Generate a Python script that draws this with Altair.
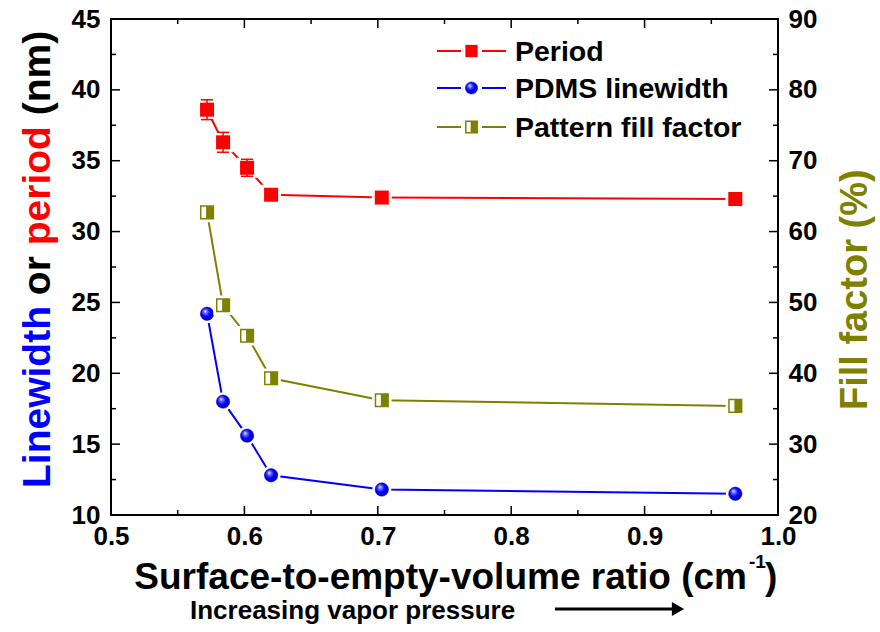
import altair as alt
import pandas as pd

# Measured data
ratio = [0.572, 0.584, 0.602, 0.620, 0.703, 0.968]
period = [38.6, 36.3, 34.5, 32.6, 32.4, 32.3]
period_err = [0.7, 0.7, 0.6, 0.3, 0.3, 0.2]
linewidth = [24.2, 18.0, 15.6, 12.8, 11.8, 11.5]
fill_factor = [62.7, 49.6, 45.3, 39.3, 36.2, 35.4]

# Axis tick values
x_major = [0.5, 0.6, 0.7, 0.8, 0.9, 1.0]
x_minor = [0.55, 0.65, 0.75, 0.85, 0.95]
yl_major = [10, 15, 20, 25, 30, 35, 40, 45]
yl_minor = [12.5, 17.5, 22.5, 27.5, 32.5, 37.5, 42.5]
yr_major = [20, 30, 40, 50, 60, 70, 80, 90]
yr_minor = [25, 35, 45, 55, 65, 75, 85]

W, H = 667, 496
FONT = "Liberation Sans"
RED, BLUE, OLIVE = "#ff0000", "#0000ff", "#808000"
MAJ, MIN = 9, 5

df = pd.DataFrame({
    "ratio": ratio,
    "period": period,
    "lo": [p - e for p, e in zip(period, period_err)],
    "hi": [p + e for p, e in zip(period, period_err)],
    "linewidth": linewidth,
    "fill": fill_factor,
})

xs = alt.Scale(domain=[0.5, 1.0], nice=False, zero=False)
yls = alt.Scale(domain=[10, 45], nice=False, zero=False)
yrs = alt.Scale(domain=[20, 90], nice=False, zero=False)

x_axis = alt.Axis(values=x_major, format=".1f", ticks=False, domain=False, grid=False,
                  labelFlush=False, labelOverlap=False,
                  labelFont=FONT, labelFontSize=26, labelFontWeight="bold",
                  labelColor="black", labelPadding=8, title=None, orient="bottom")
yl_axis = alt.Axis(values=yl_major, format="d", ticks=False, domain=False, grid=False,
                   labelFlush=False, labelOverlap=False,
                   labelFont=FONT, labelFontSize=26, labelFontWeight="bold",
                   labelColor="black", labelPadding=11, title=None, orient="left")
yr_axis = alt.Axis(values=yr_major, format="d", ticks=False, domain=False, grid=False,
                   labelFlush=False, labelOverlap=False,
                   labelFont=FONT, labelFontSize=26, labelFontWeight="bold",
                   labelColor="black", labelPadding=10, title=None, orient="right")


def X(field):
    return alt.X(field, scale=xs, axis=x_axis)


def YL(field):
    return alt.Y(field, scale=yls, axis=yl_axis)


def YR(field):
    return alt.Y(field, scale=yrs, axis=yr_axis)


base = alt.Chart(df)
halo_sq = "M-1,-1H1V1H-1Z"
right_half = "M-0.15,-1H1V1H-0.15Z"
cap = "M-1,0H1"

sphere = alt.RadialGradient(
    gradient="radial",
    x1=0.35, y1=0.3, r1=0.0, x2=0.45, y2=0.45, r2=0.6,
    stops=[alt.GradientStop(offset=0.0, color="#ffffff"),
           alt.GradientStop(offset=0.22, color="#7070ff"),
           alt.GradientStop(offset=0.55, color="#0000ff"),
           alt.GradientStop(offset=1.0, color="#0000a8")],
)

# ---- left scale: period and linewidth ----
period_line = base.mark_line(color=RED, strokeWidth=2).encode(x=X("ratio:Q"), y=YL("period:Q"))
lw_line = base.mark_line(color=BLUE, strokeWidth=2).encode(x=X("ratio:Q"), y=YL("linewidth:Q"))
period_halo = base.mark_point(shape=halo_sq, filled=True, color="white", opacity=1, size=400).encode(
    x=X("ratio:Q"), y=YL("period:Q"))
lw_halo = base.mark_circle(color="white", opacity=1, size=360).encode(
    x=X("ratio:Q"), y=YL("linewidth:Q"))
err_rule = base.mark_rule(color=RED, strokeWidth=1.5).encode(
    x=X("ratio:Q"), y=YL("lo:Q"), y2="hi:Q")
err_lo = base.mark_point(shape=cap, filled=False, color=RED, strokeWidth=1.5, opacity=1, size=150).encode(
    x=X("ratio:Q"), y=YL("lo:Q"))
err_hi = base.mark_point(shape=cap, filled=False, color=RED, strokeWidth=1.5, opacity=1, size=150).encode(
    x=X("ratio:Q"), y=YL("hi:Q"))
period_pts = base.mark_point(shape="square", filled=True, color=RED, opacity=1, size=196).encode(
    x=X("ratio:Q"), y=YL("period:Q"))
lw_pts = base.mark_point(shape="circle", filled=True, fill=sphere, stroke="#0000c0", strokeWidth=0.5,
                         opacity=1, size=180).encode(x=X("ratio:Q"), y=YL("linewidth:Q"))

# tick marks drawn inward on all four sides
xt_maj = pd.DataFrame({"t": x_major})
xt_min = pd.DataFrame({"t": x_minor})
ylt_maj = pd.DataFrame({"t": yl_major})
ylt_min = pd.DataFrame({"t": yl_minor})
yrt_maj = pd.DataFrame({"t": yr_major})
yrt_min = pd.DataFrame({"t": yr_minor})


def xticks(d, n):
    bot = alt.Chart(d).mark_rule(color="black", strokeWidth=1.5).encode(
        x=X("t:Q"), y=alt.value(H), y2=alt.value(H - n))
    top = alt.Chart(d).mark_rule(color="black", strokeWidth=1.5).encode(
        x=X("t:Q"), y=alt.value(0), y2=alt.value(n))
    return [bot, top]


def yticks_left(d, n):
    return alt.Chart(d).mark_rule(color="black", strokeWidth=1.5).encode(
        y=YL("t:Q"), x=alt.value(0), x2=alt.value(n))


def yticks_right(d, n):
    return alt.Chart(d).mark_rule(color="black", strokeWidth=1.5).encode(
        y=YR("t:Q"), x=alt.value(W), x2=alt.value(W - n))


left = alt.layer(
    period_line, lw_line, period_halo, lw_halo, err_rule, err_lo, err_hi, period_pts, lw_pts,
    *xticks(xt_maj, MAJ), *xticks(xt_min, MIN),
    yticks_left(ylt_maj, MAJ), yticks_left(ylt_min, MIN),
)

# ---- right scale: fill factor ----
fill_line = base.mark_line(color=OLIVE, strokeWidth=2).encode(x=X("ratio:Q"), y=YR("fill:Q"))
fill_halo = base.mark_point(shape=halo_sq, filled=True, color="white", opacity=1, size=380).encode(
    x=X("ratio:Q"), y=YR("fill:Q"))
fill_box = base.mark_point(shape="square", filled=False, fill="white", stroke=OLIVE, strokeWidth=1.5,
                           opacity=1, size=160).encode(x=X("ratio:Q"), y=YR("fill:Q"))
fill_half = base.mark_point(shape=right_half, filled=True, color=OLIVE, opacity=1, size=160).encode(
    x=X("ratio:Q"), y=YR("fill:Q"))

right = alt.layer(
    fill_line, fill_halo, fill_box, fill_half,
    yticks_right(yrt_maj, MAJ), yticks_right(yrt_min, MIN),
)

# ---- titles, legend and annotation ----
one = alt.Data(values=[{}])


def txt(s, x, y, size, color="black", align="left", baseline="alphabetic", angle=0):
    kw = dict(text=s, font=FONT, fontSize=size, fontWeight="bold", color=color,
              align=align, baseline=baseline)
    if angle:
        kw["angle"] = angle
    return alt.Chart(one).mark_text(**kw).encode(x=alt.value(x), y=alt.value(y))


ox, oy = 111, 19  # plot origin on the page

# multi-coloured left title: pieces laid end to end, bottom to top
TS = 39
pieces = [("Linewidth", BLUE, 4.667), ("or", "black", 1.0), ("period", RED, 3.056), ("(nm)", "black", 2.166)]
space = 0.278 * TS
left_title = []
pos = 488
for word, col, em in pieces:
    left_title.append(txt(word, 50 - ox, pos - oy, TS, col, angle=270))
    pos -= em * TS + space

deco = left_title + [
    # right axis title
    txt("Fill factor (%)", 867 - ox, 410 - oy, 38, OLIVE, angle=270),
    # bottom axis title with superscript
    txt("Surface-to-empty-volume ratio (cm", 747 - ox, 589 - oy, 37, align="right"),
    txt("-1", 749 - ox, 568 - oy, 19),
    txt(")", 765 - ox, 589 - oy, 37),
    txt("Increasing vapor pressure", 190 - ox, 619 - oy, 26),
]

# arrow under the axis title
arrow_line = alt.Chart(one).mark_rule(color="black", strokeWidth=3).encode(
    x=alt.value(555 - ox), x2=alt.value(675 - ox), y=alt.value(609 - oy))
arrow_head = alt.Chart(one).mark_point(shape="triangle-right", filled=True, color="black",
                                       opacity=1, size=200).encode(
    x=alt.value(678 - ox), y=alt.value(609 - oy))

# legend rows
rows = [(51 - oy, RED, "Period"), (88 - oy, BLUE, "PDMS linewidth"), (127 - oy, OLIVE, "Pattern fill factor")]
legend = []
for ry, col, label in rows:
    legend.append(alt.Chart(one).mark_rule(color=col, strokeWidth=2).encode(
        x=alt.value(437 - ox), x2=alt.value(461 - ox), y=alt.value(ry)))
    legend.append(alt.Chart(one).mark_rule(color=col, strokeWidth=2).encode(
        x=alt.value(482 - ox), x2=alt.value(506 - ox), y=alt.value(ry)))
    legend.append(txt(label, 515 - ox, ry + 1, 28.5, baseline="middle"))
lx = 471.5 - ox
legend.append(alt.Chart(one).mark_point(shape="square", filled=True, color=RED, opacity=1, size=150).encode(
    x=alt.value(lx), y=alt.value(rows[0][0])))
legend.append(alt.Chart(one).mark_point(shape="circle", filled=True, fill=sphere, stroke="#0000c0",
                                        strokeWidth=0.5, opacity=1, size=150).encode(
    x=alt.value(lx), y=alt.value(rows[1][0])))
legend.append(alt.Chart(one).mark_point(shape="square", filled=False, fill="white", stroke=OLIVE,
                                        strokeWidth=1.5, opacity=1, size=130).encode(
    x=alt.value(lx), y=alt.value(rows[2][0])))
legend.append(alt.Chart(one).mark_point(shape=right_half, filled=True, color=OLIVE, opacity=1, size=130).encode(
    x=alt.value(lx), y=alt.value(rows[2][0])))

chart = alt.layer(left, right, *deco, arrow_line, arrow_head, *legend).resolve_scale(
    y="independent"
).properties(
    width=W, height=H,
    autosize=alt.AutoSizeParams(type="none"),
    padding={"left": ox, "top": oy, "right": 880 - ox - W, "bottom": 632 - oy - H},
    background="white",
).configure_view(stroke="black", strokeWidth=2)

chart.save("out.html", embed_options={"renderer": "svg", "actions": False})
